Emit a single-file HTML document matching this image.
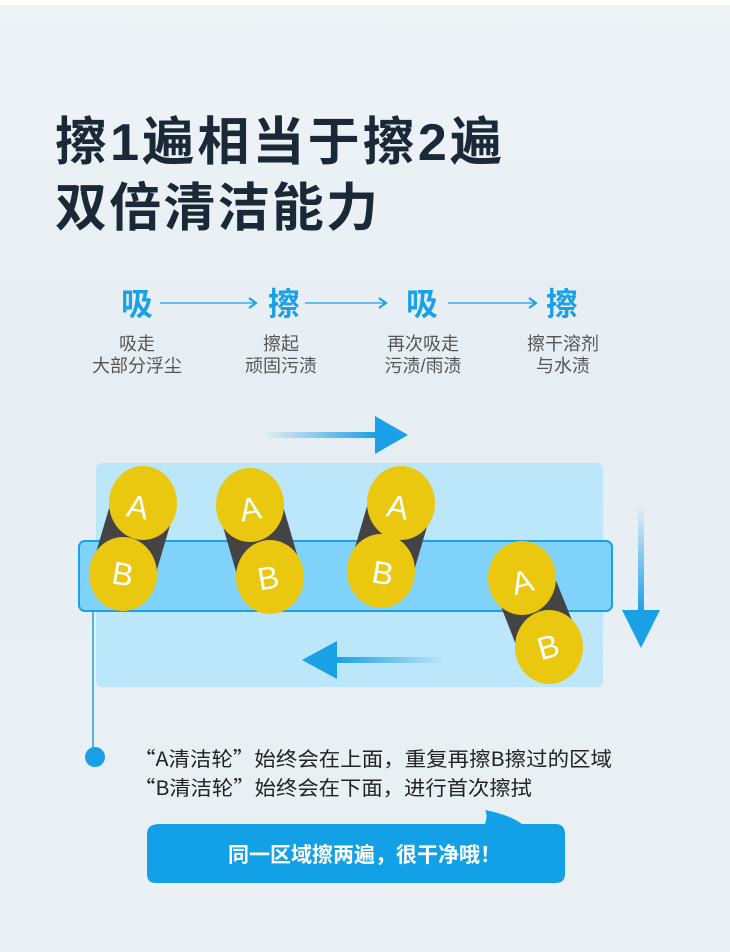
<!DOCTYPE html><html><head><meta charset="utf-8"><style>
body{margin:0;width:730px;height:952px;overflow:hidden;background:linear-gradient(180deg,#eef3f6 0%,#e6eef3 40%,#eaf1f5 100%);font-family:"Liberation Sans","Noto Sans CJK SC",sans-serif;}
</style></head><body>
<svg width="730" height="952" xmlns="http://www.w3.org/2000/svg" style="position:absolute;left:0;top:0">
<defs>
<linearGradient id="gr" x1="0" x2="1"><stop offset="0" stop-color="#1aa0e6" stop-opacity="0"/><stop offset="1" stop-color="#1aa0e6"/></linearGradient>
<linearGradient id="gl" x1="1" x2="0"><stop offset="0" stop-color="#1aa0e6" stop-opacity="0"/><stop offset="1" stop-color="#1aa0e6"/></linearGradient>
<linearGradient id="gd" x1="0" x2="0" y1="0" y2="1"><stop offset="0" stop-color="#1aa0e6" stop-opacity="0"/><stop offset="1" stop-color="#1aa0e6"/></linearGradient>
</defs>
<rect x="0" y="0" width="730" height="5" fill="#fff"/>
<text x="55" y="160" font-size="52" font-weight="bold" fill="#1a2838" textLength="447" lengthAdjust="spacing">擦1遍相当于擦2遍</text>
<text x="55" y="226" font-size="52" font-weight="bold" fill="#1a2838" textLength="323" lengthAdjust="spacing">双倍清洁能力</text>
<g font-size="32" font-weight="bold" fill="#1aa0e6" text-anchor="middle">
<text x="137" y="315">吸</text><text x="284" y="315">擦</text><text x="422" y="315">吸</text><text x="562" y="315">擦</text></g>
<g stroke="#1aa0e6" stroke-width="1.2" fill="none">
<line x1="160" y1="303" x2="255" y2="303"/><polyline points="249,298 256,303 249,308" stroke-width="2"/>
<line x1="305" y1="303" x2="385" y2="303"/><polyline points="379,298 386,303 379,308" stroke-width="2"/>
<line x1="448" y1="303" x2="535" y2="303"/><polyline points="529,298 536,303 529,308" stroke-width="2"/>
</g>
<g font-size="18" fill="#555" text-anchor="middle">
<text x="137" y="350">吸走</text><text x="137" y="372">大部分浮尘</text>
<text x="281" y="350">擦起</text><text x="281" y="372">顽固污渍</text>
<text x="423" y="350">再次吸走</text><text x="423" y="372">污渍/雨渍</text>
<text x="563" y="350">擦干溶剂</text><text x="563" y="372">与水渍</text>
</g>
<rect x="263" y="432" width="114" height="6" fill="url(#gr)"/><polygon points="375,416 408,435 375,454" fill="#1aa0e6"/>
<rect x="96" y="463" width="507" height="224" rx="6" fill="#bce6fa"/>
<rect x="79" y="541" width="533" height="70" rx="6" fill="#7fd3fb" stroke="#1aa0e6" stroke-width="2"/>
<rect x="638" y="505" width="6" height="107" fill="url(#gd)"/><polygon points="622,610 660,610 641,648" fill="#1aa0e6"/>
<rect x="335" y="657" width="110" height="6" fill="url(#gl)"/><polygon points="337,641 302,660 337,679" fill="#1aa0e6"/>
<g fill="#444">
<polygon points="110,505 176,505 156,573 90,573"/>
<polygon points="217,506 283,506 303,575 237,575"/>
<polygon points="368,503 434,503 414,571 348,571"/>
<polygon points="490,578 555,578 582,645 516,645"/>
</g>
<g fill="#eac80f">
<ellipse cx="143" cy="503" rx="34" ry="37"/><ellipse cx="123" cy="574" rx="34" ry="37"/>
<ellipse cx="250" cy="505" rx="34" ry="37"/><ellipse cx="270" cy="577" rx="34" ry="37"/>
<ellipse cx="401" cy="503" rx="34" ry="37"/><ellipse cx="381" cy="571" rx="34" ry="37"/>
<ellipse cx="522" cy="578" rx="34" ry="37"/><ellipse cx="549" cy="647" rx="34" ry="37"/>
</g>
<g font-size="32" fill="#fff" text-anchor="middle">
<text x="138" y="518" transform="rotate(10 138 506)">A</text>
<text x="123" y="585" transform="rotate(10 123 573)">B</text>
<text x="250" y="520" transform="rotate(-10 250 508)">A</text>
<text x="268" y="589" transform="rotate(-10 268 577)">B</text>
<text x="398" y="518" transform="rotate(10 398 506)">A</text>
<text x="383" y="584" transform="rotate(10 383 572)">B</text>
<text x="522" y="593" transform="rotate(-15 522 581)">A</text>
<text x="548" y="658" transform="rotate(-15 548 646)">B</text>
</g>
<line x1="93" y1="611" x2="93" y2="757" stroke="#1aa0e6" stroke-width="1.5"/>
<circle cx="95" cy="757" r="10" fill="#1aa0e6"/>
<g font-size="20" fill="#222" font-family="'Noto Sans CJK SC','Liberation Sans',sans-serif">
<text x="134" y="766" textLength="478" lengthAdjust="spacingAndGlyphs">“A清洁轮”始终会在上面，重复再擦B擦过的区域</text>
<text x="134" y="795" textLength="398" lengthAdjust="spacingAndGlyphs">“B清洁轮”始终会在下面，进行首次擦拭</text>
</g>
<path d="M160,824 H485 Q488,815 485,810 Q510,815 522,824 H555 Q565,824 565,834 V874 Q565,883 555,883 H156 Q147,883 147,874 V834 Q147,824 160,824Z" fill="#12a0e6"/>
<text x="228" y="862" font-size="21" font-weight="bold" fill="#fff" textLength="273" lengthAdjust="spacing">同一区域擦两遍，很干净哦！</text>
</svg>
</body></html>
